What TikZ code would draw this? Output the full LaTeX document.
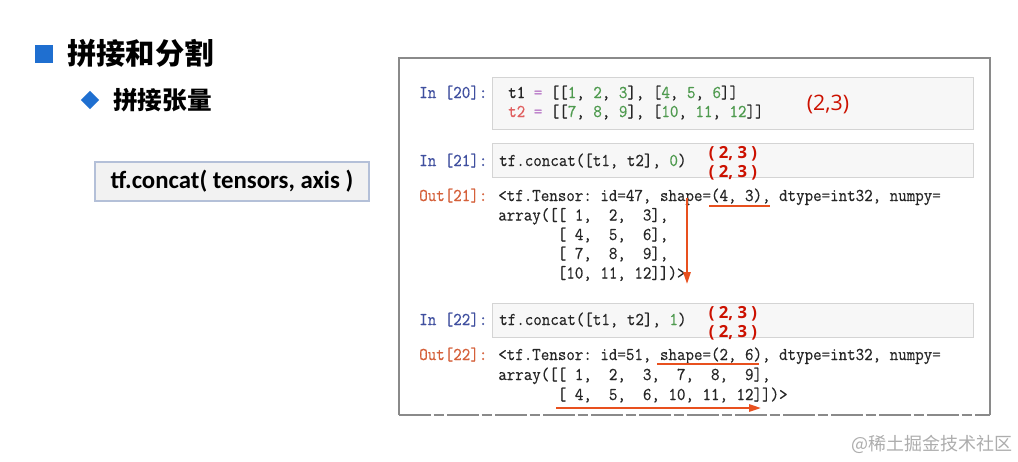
\documentclass[tikz,border=0pt]{standalone}
\usepackage{fontspec}
\setmainfont{Open Sans}
\newfontfamily\cjk{Noto Sans CJK SC}
\newfontfamily\codefont{Latin Modern Mono}[FakeStretch=0.918,FakeBold=0.4]
\newfontfamily\boxfont{Carlito}
\newfontfamily\labfont{Open Sans}
\usetikzlibrary{arrows.meta,shapes.geometric}
\definecolor{promptin}{HTML}{3F4F9F}
\definecolor{promptout}{HTML}{D5603A}
\definecolor{numgreen}{HTML}{4E9A4E}
\definecolor{eqpurple}{HTML}{B065C0}
\definecolor{tred}{HTML}{E06060}
\definecolor{annred}{HTML}{CC1100}
\definecolor{arrred}{HTML}{E8501E}
\definecolor{slideblue}{HTML}{1F6FD0}
\definecolor{cellbg}{HTML}{F7F7F7}
\definecolor{cellborder}{HTML}{D4D4D4}
\definecolor{framegray}{HTML}{8A8A8A}
\definecolor{boxbg}{HTML}{F2F2F2}
\definecolor{boxborder}{HTML}{B4C0D8}
\definecolor{wmgray}{HTML}{ADADAD}
\newcommand\gn[1]{\textcolor{numgreen}{#1}}
\newcommand\eqp{\textcolor{eqpurple}{=}}
\tikzset{
  code/.style={anchor=base west, inner sep=0pt, font=\codefont\fontsize{13.5}{13.5}\selectfont, text=black!85},
  pin/.style={code, text=promptin},
  pout/.style={code, text=promptout},
  cell/.style={draw=cellborder, fill=cellbg, line width=0.75pt},
  ann/.style={anchor=center, inner sep=0pt, text=annred, font=\labfont\bfseries\fontsize{12.5}{12.5}\selectfont},
  redline/.style={draw=arrred, line width=1.5pt},
  redarrow/.style={draw=arrred, line width=1.5pt, -{Triangle[length=9pt,width=5.5pt]}},
}
\begin{document}
\begin{tikzpicture}[x=0.75pt,y=-0.75pt]
\useasboundingbox (0,0) rectangle (1018,461);
\fill[white] (0,0) rectangle (1018,461);
% left part
\node[fill=slideblue, minimum size=13.5pt, inner sep=0pt] (sq) at (44,54) {};
\node[anchor=west, inner sep=0pt, font=\cjk\bfseries\fontsize{22}{22}\selectfont] (title) at (67,53) {拼接和分割};
\node[diamond, fill=slideblue, minimum width=14pt, minimum height=14pt, inner sep=0pt] (dia) at (90,100) {};
\node[anchor=west, inner sep=0pt, font=\cjk\bfseries\fontsize{18.5}{18.5}\selectfont] (sub) at (113,100) {拼接张量};
\node[draw=boxborder, fill=boxbg, line width=0.9pt, minimum width=205.5pt, minimum height=29.25pt, inner sep=0pt,
      font=\boxfont\bfseries\fontsize{18.6}{18.6}\selectfont] (api) at (232,181.5) {tf.concat( tensors, axis )};
% notebook frame
\draw[framegray, line width=1.5pt] (399,415) -- (399,58) -- (990,58) -- (990,415);
\draw[framegray, line width=1.5pt, dash pattern=on 24pt off 2pt on 8pt off 2pt] (399,415) -- (990,415);
% cell 20
\path[cell] (492,77) rectangle (973,129);
\node[pin] (in20) at (419,98) {In~[20]:};
\node[code] (t1) at (508,98) {t1~\eqp{}~[[\gn{1},~\gn{2},~\gn{3}],~[\gn{4},~\gn{5},~\gn{6}]]};
\node[code] (t2) at (508,117) {\textcolor{tred}{t2}~\eqp{}~[[\gn{7},~\gn{8},~\gn{9}],~[\gn{10},~\gn{11},~\gn{12}]]};
\node[anchor=center, inner sep=0pt, text=annred, font=\labfont\fontsize{16}{16}\selectfont] (sh0) at (828,104) {(2,3)};
% cell 21
\path[cell] (492,143) rectangle (973,177);
\node[pin] (in21) at (419,166) {In~[21]:};
\node[code] (c21) at (499,166) {tf.concat([t1,~t2],~\gn{0})};
\node[ann] (a21a) at (733,154) {(~2,~3~)};
\node[ann] (a21b) at (733,173) {(~2,~3~)};
\node[pout] (out21) at (419,201) {Out[21]:};
\node[code] (o21a) at (498,201) {<tf.Tensor:~id=47,~shape=(4,~3),~dtype=int32,~numpy=};
\node[code] (o21b) at (498,220.5) {array([[~1,~~2,~~3],};
\node[code] (o21c) at (498,240) {~~~~~~~[~4,~~5,~~6],};
\node[code] (o21d) at (498,259) {~~~~~~~[~7,~~8,~~9],};
\node[code] (o21e) at (498,278.5) {~~~~~~~[10,~11,~12]])>};
\coordinate (u21s) at (709,206);
\coordinate (u21e) at (770,206);
\draw[redline] (u21s) -- (u21e);
\coordinate (v21s) at (687,198);
\coordinate (v21e) at (687,284);
\draw[redarrow] (v21s) -- (v21e);
% cell 22
\path[cell] (492,303) rectangle (973,337);
\node[pin] (in22) at (419,325) {In~[22]:};
\node[code] (c22) at (499,325) {tf.concat([t1,~t2],~\gn{1})};
\node[ann] (a22a) at (733,314) {(~2,~3~)};
\node[ann] (a22b) at (733,333) {(~2,~3~)};
\node[pout] (out22) at (419,360) {Out[22]:};
\node[code] (o22a) at (498,360) {<tf.Tensor:~id=51,~shape=(2,~6),~dtype=int32,~numpy=};
\node[code] (o22b) at (498,380) {array([[~1,~~2,~~3,~~7,~~8,~~9],};
\node[code] (o22c) at (498,400) {~~~~~~~[~4,~~5,~~6,~10,~11,~12]])>};
\coordinate (u22s) at (657,364);
\coordinate (u22e) at (759,364);
\draw[redline] (u22s) -- (u22e);
\coordinate (h22s) at (556,408);
\coordinate (h22e) at (761,408);
\draw[redarrow] (h22s) -- (h22e);
% watermark
\node[anchor=east, inner sep=0pt, text=wmgray, font=\cjk\fontsize{13.5}{13.5}\selectfont] (wm) at (1013,444) {@稀土掘金技术社区};
\end{tikzpicture}
\end{document}
